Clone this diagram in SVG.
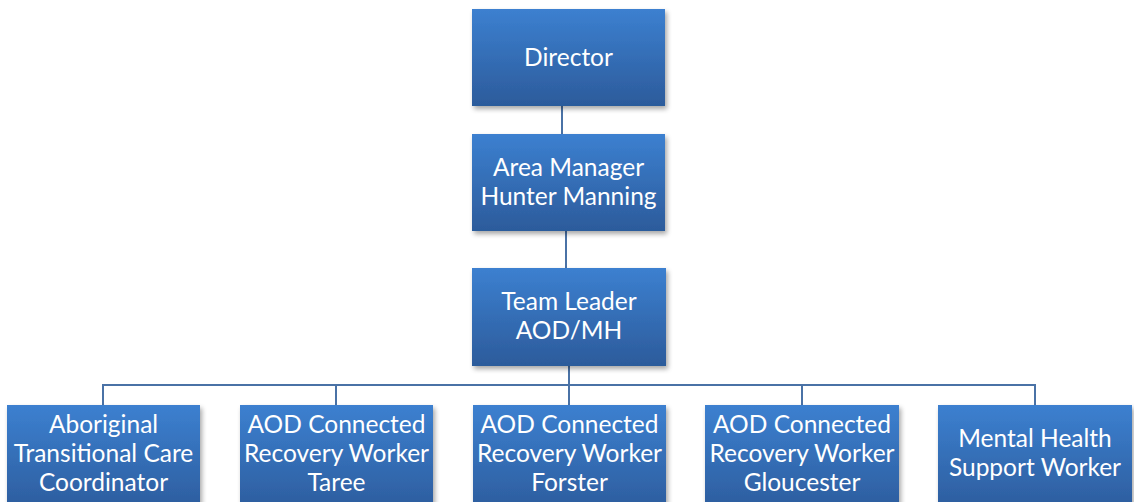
<svg xmlns="http://www.w3.org/2000/svg" width="1134" height="502" viewBox="0 0 1134 502">
  <defs>
    <linearGradient id="boxFill" x1="0" y1="0" x2="0" y2="1">
      <stop offset="0" stop-color="#3c80d0"/>
      <stop offset="1" stop-color="#2c5b9b"/>
    </linearGradient>
    <filter id="shadow" x="-10%" y="-10%" width="125%" height="130%">
      <feGaussianBlur in="SourceAlpha" stdDeviation="2.5"/>
      <feOffset dx="2" dy="3" result="b"/>
      <feComponentTransfer><feFuncA type="linear" slope="0.35"/></feComponentTransfer>
      <feMerge><feMergeNode/><feMergeNode in="SourceGraphic"/></feMerge>
    </filter>
  </defs>
  <style>
    .box { fill: url(#boxFill); filter: url(#shadow); }
    .lbl { font-family: Lato, "Open Sans", "Liberation Sans", sans-serif; font-size: 24.5px; fill: #ffffff; text-anchor: middle; }
    .link { stroke: #4a72a6; stroke-width: 2; fill: none; }
  </style>
  <rect width="1134" height="502" fill="#ffffff"/>

  <g id="connectors">
    <line class="link" x1="562" y1="106" x2="562" y2="134"/>
    <line class="link" x1="566" y1="231" x2="566" y2="268"/>
    <line class="link" x1="569" y1="366" x2="569" y2="405"/>
    <polyline class="link" points="103,405 103,385 1035,385 1035,405"/>
    <line class="link" x1="336" y1="385" x2="336" y2="405"/>
    <line class="link" x1="802" y1="385" x2="802" y2="405"/>
  </g>

  <g id="director">
    <rect class="box" x="472" y="9" width="193" height="97"/>
    <text class="lbl" x="568.5" y="66">Director</text>
  </g>

  <g id="area-manager">
    <rect class="box" x="472" y="134" width="193" height="97"/>
    <text class="lbl" x="568.5" y="176">Area Manager</text>
    <text class="lbl" x="568.5" y="205">Hunter Manning</text>
  </g>

  <g id="team-leader">
    <rect class="box" x="472" y="268" width="194" height="98"/>
    <text class="lbl" x="569" y="310">Team Leader</text>
    <text class="lbl" x="569" y="339">AOD/MH</text>
  </g>

  <g id="aboriginal-coordinator">
    <rect class="box" x="7" y="405" width="193" height="110"/>
    <text class="lbl" x="103.5" y="433">Aboriginal</text>
    <text class="lbl" x="103.5" y="462">Transitional Care</text>
    <text class="lbl" x="103.5" y="491">Coordinator</text>
  </g>

  <g id="aod-taree">
    <rect class="box" x="240" y="405" width="193" height="110"/>
    <text class="lbl" x="336.5" y="433">AOD Connected</text>
    <text class="lbl" x="336.5" y="462">Recovery Worker</text>
    <text class="lbl" x="336.5" y="491">Taree</text>
  </g>

  <g id="aod-forster">
    <rect class="box" x="473" y="405" width="193" height="110"/>
    <text class="lbl" x="569.5" y="433">AOD Connected</text>
    <text class="lbl" x="569.5" y="462">Recovery Worker</text>
    <text class="lbl" x="569.5" y="491">Forster</text>
  </g>

  <g id="aod-gloucester">
    <rect class="box" x="705" y="405" width="194" height="110"/>
    <text class="lbl" x="802" y="433">AOD Connected</text>
    <text class="lbl" x="802" y="462">Recovery Worker</text>
    <text class="lbl" x="802" y="491">Gloucester</text>
  </g>

  <g id="mental-health-worker">
    <rect class="box" x="938" y="405" width="194" height="110"/>
    <text class="lbl" x="1035" y="447">Mental Health</text>
    <text class="lbl" x="1035" y="476">Support Worker</text>
  </g>
</svg>
